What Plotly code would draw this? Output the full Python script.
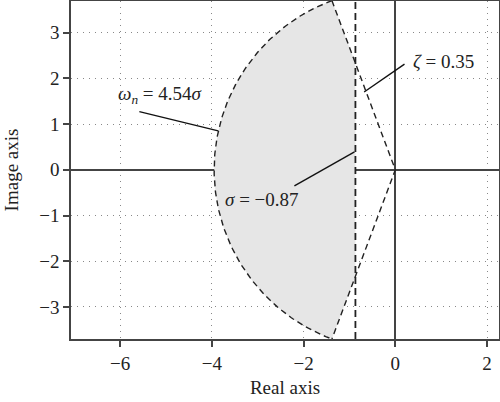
import numpy as np
import plotly.graph_objects as go

# Parameters
sigma = -0.87          # vertical boundary (real part)
wn_ratio = 4.54        # omega_n = 4.54 * |sigma|
zeta = 0.35            # damping ratio line

x_range = [-7.07, 2.26]
y_range = [-3.70, 3.69]
x_ticks = [-6, -4, -2, 0, 2]
y_ticks = [-3, -2, -1, 0, 1, 2, 3]

# Annotation positions (data coords): text centre, leader start, leader end
ann_wn_text = (-5.12, 1.64)
ann_wn_line = [(-5.58, 1.27), (-3.86, 0.85)]
ann_zeta_text = (1.05, 2.36)
ann_zeta_line = [(-0.68, 1.70), (0.20, 2.31)]
ann_sigma_text = (-2.91, -0.66)
ann_sigma_line = [(-2.20, -0.35), (-0.89, 0.39)]

# Geometry derived from the parameters
R = wn_ratio * abs(sigma)
phi = np.arccos(zeta)
a0 = np.pi - phi
a1 = np.pi + phi
ang = np.linspace(a0, a1, 200)
arc_x = R * np.cos(ang)
arc_y = R * np.sin(ang)
y_cut = abs(sigma) * np.tan(phi)

poly_x = list(arc_x) + [sigma, sigma, arc_x[0]]
poly_y = list(arc_y) + [-y_cut, y_cut, arc_y[0]]

fig = go.Figure()
fig.add_trace(go.Scatter(x=poly_x, y=poly_y, fill="toself", fillcolor="#e6e6e6",
                         line=dict(width=0), mode="lines", hoverinfo="skip"))
fig.add_trace(go.Scatter(x=arc_x, y=arc_y, mode="lines",
                         line=dict(color="#222222", width=1.4, dash="6px,4px")))
fig.add_trace(go.Scatter(x=[arc_x[0], 0, arc_x[-1]], y=[arc_y[0], 0, arc_y[-1]], mode="lines",
                         line=dict(color="#222222", width=1.4, dash="6px,4px")))
fig.add_trace(go.Scatter(x=[sigma, sigma], y=[y_range[0], y_range[1]], mode="lines",
                         line=dict(color="#222222", width=1.8, dash="7px,4px")))

for (p0, p1) in [ann_wn_line, ann_zeta_line, ann_sigma_line]:
    fig.add_shape(type="line", x0=p0[0], y0=p0[1], x1=p1[0], y1=p1[1],
                  line=dict(color="#111111", width=1.4))

font = dict(family="Liberation Serif", size=19, color="#222222")
ann_font = dict(family="Liberation Serif", size=19, color="#222222")
fig.add_annotation(x=ann_wn_text[0], y=ann_wn_text[1], showarrow=False,
                   text="<i>ω</i><sub><i>n</i></sub> = 4.54<i>σ</i>", font=ann_font)
fig.add_annotation(x=ann_zeta_text[0], y=ann_zeta_text[1], showarrow=False,
                   text="<i>ζ</i> = 0.35", font=ann_font)
fig.add_annotation(x=ann_sigma_text[0], y=ann_sigma_text[1], showarrow=False,
                   text="<i>σ</i> = −0.87", font=ann_font)

axis_common = dict(showline=True, linecolor="#444444", linewidth=1.5, mirror=True,
                   ticks="outside", ticklen=6, tickcolor="#444444", tickwidth=1.5,
                   showgrid=True, gridcolor="#888888", gridwidth=1, griddash="1px,5px",
                   zeroline=True, zerolinecolor="#444444", zerolinewidth=1.5,
                   tickfont=font, automargin=False)

fig.update_xaxes(range=x_range, tickvals=x_ticks, title=dict(text="Real axis", font=font, standoff=8),
                 **axis_common)
fig.update_yaxes(range=y_range, tickvals=y_ticks, title=dict(text="Image axis", font=font, standoff=16),
                 **axis_common)

fig.update_layout(width=500, height=402, margin=dict(l=71, r=1, t=1, b=63),
                  plot_bgcolor="white", paper_bgcolor="white", showlegend=False,
                  font=font)
fig.write_html("out.html", config={"displayModeBar": False},
               post_script="document.body.style.margin='0';document.body.style.overflow='hidden';")
